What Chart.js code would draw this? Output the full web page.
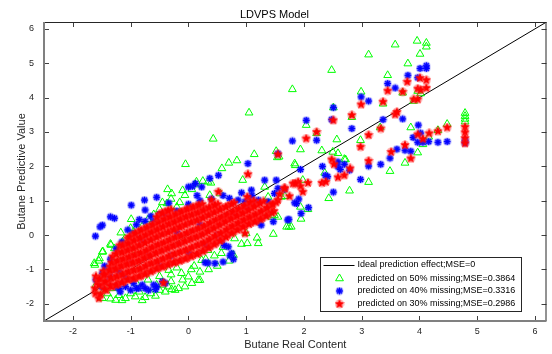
<!DOCTYPE html>
<html>
<head>
<meta charset="utf-8">
<script src="https://cdn.jsdelivr.net/npm/chart.js@4/dist/chart.umd.min.js"></script>
<style>
  body { margin: 0; background: #fff; }
  #wrap { width: 552px; height: 354px; }
</style>
</head>
<body>
<div id="wrap"><canvas id="chart"></canvas></div>
<script>
// axis ticks
const xTicks = [-2, -1, 0, 1, 2, 3, 4, 5, 6];
const yTicks = [-2, -1, 0, 1, 2, 3, 4, 5, 6];

// ideal prediction line (y = x) across the whole axis range
const idealLine = [[-2.5, -2.5], [6.2, 6.2]];

const legendLabels = [
    'Ideal prediction effect;MSE=0',
    'predicted on 50% missing;MSE=0.3864',
    'predicted on 40% missing;MSE=0.3316',
    'predicted on 30% missing;MSE=0.2986'
];

// 50% missing (green triangles)
const green50 = [
    [1.80,4.24],[2.48,4.80],[3.12,5.25],[3.58,5.54],[3.96,5.65],[4.12,5.59],[4.12,5.48],[4.01,5.27],[3.80,4.99],[3.45,4.65],
    [2.99,4.17],[3.71,4.14],[3.97,4.19],[4.02,4.12],[3.90,3.90],[3.37,3.82],[2.51,3.71],[2.83,3.43],[2.04,3.20],[2.22,2.96],
    [3.32,3.13],[3.85,3.13],[4.16,2.86],[4.32,3.05],[4.48,3.23],[2.57,2.78],[2.98,2.76],[1.94,2.49],[2.31,2.46],[2.50,2.42],
    [2.59,2.38],[3.97,2.40],[4.06,2.64],[3.75,2.10],[1.85,2.03],[1.57,2.28],[2.72,2.20],
    [4.79,3.30],[4.79,3.38],[4.79,3.46],[4.79,3.55],
    [3.49,1.86],[3.12,1.54],[2.79,1.29],[2.43,1.07],[2.36,1.81],[2.70,2.21],[1.98,1.60],[1.67,1.13],[1.94,0.82],[2.07,0.75],
    [1.95,0.47],[1.74,0.24],[1.55,0.53],
    [1.05,3.56],[0.43,2.80],[-0.05,2.06],[1.14,2.35],[0.84,2.17],[0.70,2.10],[0.58,1.94],[1.52,2.44],[1.54,2.26],[0.94,1.60],
    [-0.36,1.33],[0.39,1.52],[0.25,1.57],[0.12,1.47],[0.06,1.33],[-0.37,0.92],[-0.99,0.46],[-1.17,0.07],[-1.35,-0.26],[-1.49,-0.49],
    [-1.55,-0.75],[-1.62,-0.87],[1.47,0.03],[1.19,-0.08],[0.92,-0.26],[1.02,-0.24],[1.21,-0.24],[1.49,0.58],[1.38,0.65],[1.70,0.24],
    [0.75,-0.58],[0.34,-0.44],[0.23,-0.73],
    [1.84,2.08],[-0.29,1.21],[-0.06,1.16],[0.14,1.55],[0.34,1.55],[0.37,1.16],[0.55,1.21],[1.32,1.40],[1.38,1.11],[1.61,1.11],
    [1.44,0.53],[1.78,0.24],[-0.20,0.82],[-0.23,0.53],
    [0.57,-0.53],[0.78,-0.58],[0.20,-1.07],[0.17,-1.31],[0.06,-1.40],[-0.06,-1.50],[-0.17,-1.55],[-0.29,-1.58],[-0.12,-1.11],[0.00,-1.21],
    [-0.34,-1.02],
    [-1.49,-1.84],[-1.26,-1.89],[-1.09,-1.84],[-0.92,-1.79],[-0.75,-1.81],[-0.57,-1.77],[-0.40,-1.65],[-0.23,-1.60],[0.20,-1.31],
    [-1.63,-0.82],[-1.54,-0.68],[-1.48,-0.48],[-1.34,-0.29],[-1.28,-0.39],[-1.14,-0.20],[-1.00,-0.35],[-0.91,-0.44],
    [-1.40,-1.70],[-1.35,-1.85],[-1.20,-1.75],[-1.15,-1.90],[-1.00,-1.70],[-0.85,-1.65],[-0.80,-1.90],[-0.65,-1.70],[-0.50,-1.60],[-0.45,-1.45],
    [-0.30,-1.35],[-0.35,-1.50],[-0.55,-1.45],[-1.55,-1.60],[-1.60,-1.45],[-1.45,-1.50],[-1.30,-1.55],
    [-1.10,-0.10],[-0.95,0.10],[-0.80,0.25],[-0.70,0.45],[-0.60,0.60],[-0.50,0.75],[-0.45,0.95],[-0.30,1.05],[-0.15,0.95],[-0.10,1.30],
    [-0.65,0.30],[-0.85,-0.05],[-1.00,0.20],[-1.20,-0.45],[-1.25,-0.65],[-1.40,-1.05],[-1.50,-1.25],
    [-0.90,-1.40],[-0.70,-1.30],[-0.50,-1.20],[-0.30,-1.15],[-0.20,-0.95],[0.10,-0.90],[0.30,-0.70],[0.45,-0.60],[0.60,-0.35],[0.80,-0.10],
    [1.00,0.05],[0.50,-0.90],[0.70,-0.75],[0.35,-1.00],[0.05,-1.00],[-0.10,-1.30]
];

// 40% missing (blue asterisks)
const blue40 = [
    [4.12,4.93],[4.12,4.85],[4.01,4.85],[3.80,4.65],[3.97,4.58],[3.45,4.41],[3.58,4.28],[2.99,4.02],[3.12,3.90],[2.51,3.71],
    [2.04,3.34],[2.48,3.36],[2.83,3.10],[3.37,3.36],[3.71,3.38],[3.98,3.20],[4.02,2.97],[3.89,2.84],[3.97,2.70],[4.06,2.70],
    [4.16,2.72],[4.32,2.70],[4.48,2.72],[1.80,2.74],[2.22,2.76],[4.79,2.68],[4.79,2.76],[3.61,2.50],[3.75,2.47],[3.85,2.44],
    [3.49,2.24],[3.33,2.06],[3.12,2.01],[2.32,2.00],[2.59,2.13],[2.70,2.06],[2.59,1.99],[1.94,1.91],[1.55,2.37],
    [2.63,1.91],[2.79,1.89],[2.37,1.74],[2.41,1.70],[2.98,1.62],[2.51,1.25],[1.66,1.33],[1.84,0.94],[1.91,1.05],[2.08,0.80],
    [1.95,0.63],[1.74,0.46],
    [-1.61,-0.03],[-1.53,0.24],[-1.49,0.29],[-1.35,0.53],[-1.28,0.49],[-0.99,0.87],[-0.76,1.02],[-0.75,0.73],[-0.55,1.10],[1.03,2.08],
    [0.07,1.42],[0.52,1.74],[0.37,1.65],[1.32,1.60],[1.52,1.60],[0.71,1.07],[0.86,1.02],[0.92,1.23],[1.09,1.31],[1.21,1.02],
    [1.72,0.44],[0.46,-0.82],[0.60,-0.78],[0.34,-0.81],[0.69,-0.34],[0.75,-0.53],
    [-1.26,-1.50],[-1.09,-1.50],[-0.86,-1.55],[-0.69,-1.60],[-0.57,-1.58],[-1.49,-1.11],[-1.44,-1.07],[-1.18,-1.65],
    [0.00,1.40],[0.12,1.50],[0.23,1.40],[-0.34,0.93],[1.55,1.36],[1.49,1.21],[1.87,0.92],[1.21,0.39],[1.26,0.29],[1.47,0.39],
    [0.98,0.97],[1.15,0.92],[1.38,0.97],
    [0.57,-0.15],[0.62,-0.30],[0.72,-0.60],[0.78,-0.70],[0.29,-0.80],
    [-1.36,-1.20],[-1.30,-1.00],[-1.20,-1.05],[-1.10,-1.20],[-0.95,-1.40],[-0.80,-1.45],[-0.60,-1.45],[-0.45,-1.35],[-0.96,0.05],[-0.85,-0.10],
    [-0.79,-0.15],[-0.60,0.40],[-0.40,0.60],[-0.20,0.70],[0.00,0.90],[0.20,1.00],[0.40,1.05],[-0.30,-0.60],[0.00,-0.50],[0.30,-0.30],
    [0.50,0.00],[-0.50,-0.90],[-0.70,-0.60],[-1.00,-0.80],[-0.20,0.10],[0.20,0.30],[0.80,0.60],[1.00,0.80],[-1.60,-1.30],[-1.50,-1.50],
    [-1.00,-1.60],[-0.75,-1.55],[-1.40,-1.35],[-0.65,0.55],[-0.85,0.45],[0.15,1.15],[0.60,1.15],[1.10,1.15],
    [-1.45,-0.90],[-1.35,-0.70],[-1.25,-0.40],[-1.15,-0.20],[-1.05,0.15],[-0.90,0.30],[-0.75,0.40],[-0.50,0.60],[-0.90,-1.55],[-1.20,-1.55],
    [-0.55,-1.50],[-0.40,-1.40]
];

// 30% missing (red stars)
const red30 = [
    [4.01,4.57],[4.12,4.51],[4.12,4.28],[3.79,4.46],[3.45,4.20],[3.97,4.26],[4.02,4.22],[3.71,4.17],[3.90,3.95],[3.97,3.95],
    [3.37,3.88],[2.99,3.80],[2.83,3.49],[3.58,3.51],[3.61,3.58],[2.51,3.34],[2.22,3.00],[2.04,2.81],[3.33,3.10],[4.17,2.96],
    [4.32,3.02],[4.48,3.13],[4.06,2.80],[3.97,2.93],[4.79,3.15],[4.79,2.99],[4.79,2.82],[4.79,2.67],[3.12,2.91],[2.98,2.57],
    [3.75,2.62],[3.51,2.42],[3.85,2.23],[2.48,2.20],[3.12,2.16],[1.55,2.35],[2.80,1.94],
    [2.52,2.06],[2.70,1.74],[2.59,1.68],[2.31,1.52],[2.38,1.55],[1.81,1.50],[1.90,1.55],[1.94,1.42],[1.98,1.26],[2.07,1.52],
    [1.66,1.36],[1.58,1.19],[1.75,1.13],
    [1.03,1.77],[0.52,1.26],[0.40,1.02],[1.02,1.11],[1.67,1.36],[-1.61,-1.70],[-1.55,-1.84],[-0.43,-1.39],[0.98,0.05],[1.43,0.87],
    [1.55,1.02],[1.85,1.50],
    // dense core
    [-1.62,-1.55],[-1.58,-1.35],[-1.60,-1.20],
    [-1.52,-1.72],[-1.48,-1.45],[-1.50,-1.25],[-1.47,-1.05],
    [-1.42,-1.60],[-1.38,-1.35],[-1.40,-1.12],[-1.36,-0.92],
    [-1.32,-1.50],[-1.28,-1.25],[-1.30,-1.02],[-1.27,-0.82],[-1.31,-0.62],
    [-1.22,-1.42],[-1.18,-1.18],[-1.20,-0.95],[-1.17,-0.72],[-1.21,-0.50],[-1.19,-0.30],
    [-1.12,-1.35],[-1.08,-1.10],[-1.10,-0.88],[-1.07,-0.68],[-1.11,-0.48],[-1.09,-0.28],[-1.05,-0.10],
    [-1.02,-1.28],[-0.98,-1.05],[-1.00,-0.83],[-0.97,-0.60],[-1.01,-0.40],[-0.99,-0.20],[-0.96,0.00],
    [-0.92,-1.25],[-0.88,-1.00],[-0.90,-0.78],[-0.87,-0.55],[-0.91,-0.35],[-0.89,-0.12],[-0.86,0.10],
    [-0.82,-1.18],[-0.78,-0.95],[-0.80,-0.72],[-0.77,-0.50],[-0.81,-0.28],[-0.79,-0.06],[-0.76,0.18],
    [-0.72,-1.10],[-0.68,-0.85],[-0.70,-0.62],[-0.67,-0.40],[-0.71,-0.18],[-0.69,0.04],[-0.66,0.26],
    [-0.62,-1.02],[-0.58,-0.80],[-0.60,-0.56],[-0.57,-0.32],[-0.61,-0.10],[-0.59,0.12],[-0.56,0.34],
    [-0.52,-0.95],[-0.48,-0.72],[-0.50,-0.48],[-0.47,-0.25],[-0.51,-0.02],[-0.49,0.20],[-0.46,0.42],[-0.50,0.60],
    [-0.42,-0.90],[-0.38,-0.66],[-0.40,-0.42],[-0.37,-0.18],[-0.41,0.05],[-0.39,0.28],[-0.36,0.50],[-0.40,0.68],
    [-0.32,-0.82],[-0.28,-0.58],[-0.30,-0.34],[-0.27,-0.10],[-0.31,0.12],[-0.29,0.35],[-0.26,0.56],[-0.30,0.74],
    [-0.22,-0.78],[-0.18,-0.52],[-0.20,-0.28],[-0.17,-0.04],[-0.21,0.20],[-0.19,0.42],[-0.16,0.64],
    [-0.12,-0.72],[-0.08,-0.46],[-0.10,-0.22],[-0.07,0.02],[-0.11,0.26],[-0.09,0.50],[-0.06,0.72],
    [-0.02,-0.66],[0.02,-0.40],[0.00,-0.15],[0.03,0.10],[-0.01,0.34],[0.01,0.56],[0.04,0.78],
    [0.08,-0.58],[0.12,-0.32],[0.10,-0.08],[0.13,0.16],[0.09,0.40],[0.11,0.62],[0.14,0.84],
    [0.18,-0.52],[0.22,-0.26],[0.20,-0.02],[0.23,0.22],[0.19,0.46],[0.21,0.68],[0.24,0.90],
    [0.28,-0.42],[0.32,-0.18],[0.30,0.06],[0.33,0.30],[0.29,0.54],[0.31,0.76],
    [0.38,-0.32],[0.42,-0.08],[0.40,0.16],[0.43,0.40],[0.39,0.62],[0.41,0.84],
    [0.48,-0.22],[0.52,0.02],[0.50,0.25],[0.53,0.48],[0.49,0.70],[0.51,0.90],
    [0.58,-0.12],[0.62,0.10],[0.60,0.34],[0.63,0.56],[0.59,0.78],
    [0.68,0.00],[0.72,0.22],[0.70,0.44],[0.73,0.64],[0.69,0.86],
    [0.78,0.10],[0.82,0.30],[0.80,0.52],[0.83,0.72],[0.79,0.94],
    [0.88,0.20],[0.92,0.40],[0.90,0.60],[0.93,0.80],
    [0.98,0.28],[1.02,0.48],[1.00,0.68],[1.03,0.90],
    [1.08,0.36],[1.12,0.56],[1.10,0.78],[1.13,1.00],
    [1.18,0.42],[1.22,0.64],[1.20,0.88],
    [1.28,0.50],[1.32,0.74],[1.30,0.98],
    [1.38,0.60],[1.42,0.84],
    [1.48,0.70],[1.52,0.95],
    // in-between points of the core
    [-1.55,-1.45],[-1.54,-1.28],
    [-1.45,-1.58],[-1.44,-1.35],[-1.46,-1.15],
    [-1.35,-1.48],[-1.34,-1.24],[-1.36,-1.02],[-1.33,-0.80],
    [-1.25,-1.45],[-1.24,-1.20],[-1.26,-0.98],[-1.23,-0.75],[-1.25,-0.55],
    [-1.15,-1.38],[-1.14,-1.14],[-1.16,-0.90],[-1.13,-0.70],[-1.15,-0.50],[-1.14,-0.30],
    [-1.05,-1.30],[-1.04,-1.07],[-1.06,-0.85],[-1.03,-0.64],[-1.05,-0.44],[-1.04,-0.24],[-1.02,-0.05],
    [-0.95,-1.26],[-0.94,-1.02],[-0.96,-0.80],[-0.93,-0.58],[-0.95,-0.38],[-0.94,-0.16],[-0.92,0.05],
    [-0.85,-1.20],[-0.84,-0.98],[-0.86,-0.75],[-0.83,-0.52],[-0.85,-0.30],[-0.84,-0.08],[-0.82,0.14],
    [-0.75,-1.14],[-0.74,-0.90],[-0.76,-0.67],[-0.73,-0.45],[-0.75,-0.23],[-0.74,0.00],[-0.72,0.22],
    [-0.65,-1.06],[-0.64,-0.82],[-0.66,-0.60],[-0.63,-0.36],[-0.65,-0.14],[-0.64,0.08],[-0.62,0.30],
    [-0.55,-0.98],[-0.54,-0.76],[-0.56,-0.52],[-0.53,-0.28],[-0.55,-0.06],[-0.54,0.16],[-0.52,0.38],[-0.55,0.52],
    [-0.45,-0.92],[-0.44,-0.69],[-0.46,-0.45],[-0.43,-0.22],[-0.45,0.02],[-0.44,0.24],[-0.42,0.46],[-0.45,0.64],
    [-0.35,-0.86],[-0.34,-0.62],[-0.36,-0.38],[-0.33,-0.14],[-0.35,0.08],[-0.34,0.32],[-0.32,0.53],[-0.35,0.71],
    [-0.25,-0.80],[-0.24,-0.55],[-0.26,-0.31],[-0.23,-0.07],[-0.25,0.16],[-0.24,0.38],[-0.22,0.60],
    [-0.15,-0.75],[-0.14,-0.49],[-0.16,-0.25],[-0.13,-0.02],[-0.15,0.23],[-0.14,0.46],[-0.12,0.68],
    [-0.05,-0.69],[-0.04,-0.43],[-0.06,-0.18],[-0.03,0.06],[-0.05,0.30],[-0.04,0.53],[-0.02,0.75],
    [0.05,-0.62],[0.06,-0.36],[0.04,-0.11],[0.07,0.13],[0.05,0.37],[0.06,0.59],[0.08,0.81],
    [0.15,-0.55],[0.16,-0.29],[0.14,-0.05],[0.17,0.19],[0.15,0.43],[0.16,0.65],[0.18,0.87],
    [0.25,-0.47],[0.26,-0.22],[0.24,0.02],[0.27,0.26],[0.25,0.50],[0.26,0.72],
    [0.35,-0.37],[0.36,-0.13],[0.34,0.11],[0.37,0.35],[0.35,0.58],[0.36,0.80],
    [0.45,-0.27],[0.46,-0.03],[0.44,0.20],[0.47,0.44],[0.45,0.66],[0.46,0.87],
    [0.55,-0.17],[0.56,0.06],[0.54,0.30],[0.57,0.52],[0.55,0.74],
    [0.65,-0.06],[0.66,0.16],[0.64,0.39],[0.67,0.60],[0.65,0.82],
    [0.75,0.05],[0.76,0.26],[0.74,0.48],[0.77,0.68],[0.75,0.90],
    [0.85,0.15],[0.86,0.35],[0.84,0.56],[0.87,0.76],
    [0.95,0.24],[0.96,0.44],[0.94,0.64],[0.97,0.85],
    [1.05,0.32],[1.06,0.52],[1.04,0.73],[1.07,0.95],
    [1.15,0.39],[1.16,0.60],[1.14,0.83],
    [1.25,0.46],[1.26,0.69],[1.24,0.93],
    [1.35,0.55],[1.36,0.79],
    [1.45,0.65],[1.46,0.90]
];

// small marker images (pentagram and asterisk like the MATLAB ones)
function makeStar(color, halo, size) {
    const c = document.createElement('canvas');
    c.width = size;
    c.height = size;
    const g = c.getContext('2d');
    const R = size / 2, r = R * 0.45;
    // soft halo like the blurred original
    g.fillStyle = halo;
    g.beginPath();
    g.arc(R, R, R - 0.5, 0, Math.PI * 2);
    g.fill();
    g.beginPath();
    for (let i = 0; i < 10; i++) {
        const a = -Math.PI / 2 + i * Math.PI / 5;
        const rr = i % 2 === 0 ? R : r;
        g.lineTo(R + rr * Math.cos(a), R + rr * Math.sin(a));
    }
    g.closePath();
    g.fillStyle = color;
    g.fill();
    return c;
}

function makeAsterisk(color, halo, size) {
    const c = document.createElement('canvas');
    c.width = size;
    c.height = size;
    const g = c.getContext('2d');
    const m = size / 2;
    g.fillStyle = halo;
    g.beginPath();
    g.arc(m, m, m - 0.5, 0, Math.PI * 2);
    g.fill();
    g.strokeStyle = color;
    g.lineWidth = 1.4;
    const d = m - 1, e = d * 0.707;
    g.beginPath();
    g.moveTo(m - d, m); g.lineTo(m + d, m);
    g.moveTo(m, m - d); g.lineTo(m, m + d);
    g.moveTo(m - e, m - e); g.lineTo(m + e, m + e);
    g.moveTo(m - e, m + e); g.lineTo(m + e, m - e);
    g.stroke();
    return c;
}

const redStar = makeStar('#ff0000', 'rgba(255,40,40,0.4)', 10);
const blueAst = makeAsterisk('#0000ff', 'rgba(60,60,255,0.35)', 9);

const toXY = arr => arr.map(p => ({ x: p[0], y: p[1] }));

function drawTriangle(ctx, x, y, r) {
    ctx.beginPath();
    ctx.moveTo(x, y - r);
    ctx.lineTo(x + r * 0.866, y + r * 0.5);
    ctx.lineTo(x - r * 0.866, y + r * 0.5);
    ctx.closePath();
    ctx.stroke();
}

// MATLAB style box with inward ticks
const boxAxes = {
    id: 'boxAxes',
    afterDraw(chart) {
        const { ctx, chartArea: a, scales } = chart;
        ctx.save();
        ctx.strokeStyle = '#404040';
        ctx.lineWidth = 1;
        const t = 5;
        ctx.beginPath();
        xTicks.forEach(v => {
            const px = Math.round(scales.x.getPixelForValue(v)) + 0.5;
            ctx.moveTo(px, a.bottom); ctx.lineTo(px, a.bottom - t);
            ctx.moveTo(px, a.top); ctx.lineTo(px, a.top + t);
        });
        yTicks.forEach(v => {
            const py = Math.round(scales.y.getPixelForValue(v)) + 0.5;
            ctx.moveTo(a.left, py); ctx.lineTo(a.left + t, py);
            ctx.moveTo(a.right, py); ctx.lineTo(a.right - t, py);
        });
        ctx.stroke();
        // top and right edges
        ctx.strokeStyle = '#262626';
        ctx.beginPath();
        ctx.moveTo(a.left, a.top + 0.5); ctx.lineTo(a.right, a.top + 0.5);
        ctx.moveTo(a.right - 0.5, a.top); ctx.lineTo(a.right - 0.5, a.bottom);
        ctx.stroke();
        // left and bottom edges
        ctx.strokeStyle = '#808080';
        ctx.lineWidth = 2;
        ctx.beginPath();
        ctx.moveTo(a.left, a.top); ctx.lineTo(a.left, a.bottom);
        ctx.lineTo(a.right, a.bottom);
        ctx.stroke();
        ctx.restore();
    }
};

// legend box in the lower right corner of the plot
const boxLegend = {
    id: 'boxLegend',
    afterDraw(chart) {
        const { ctx, chartArea: a } = chart;
        const w = 201, h = 54;
        const x0 = a.right - 26 - w, y0 = a.bottom - 10 - h;
        ctx.save();
        ctx.fillStyle = '#fff';
        ctx.fillRect(x0, y0, w, h);
        ctx.strokeStyle = '#262626';
        ctx.lineWidth = 1;
        ctx.strokeRect(Math.round(x0) + 0.5, Math.round(y0) + 0.5, w, h);
        const rowY = [8, 21.5, 34, 47];
        const mx = x0 + 20, tx = x0 + 38;
        // line sample
        ctx.strokeStyle = '#000';
        ctx.beginPath();
        ctx.moveTo(x0 + 4, y0 + rowY[0] + 0.5);
        ctx.lineTo(x0 + 35, y0 + rowY[0] + 0.5);
        ctx.stroke();
        // markers
        ctx.strokeStyle = '#00ff00';
        drawTriangle(ctx, mx, y0 + rowY[1], 4.5);
        ctx.drawImage(blueAst, mx - 4.5, y0 + rowY[2] - 4.5);
        ctx.drawImage(redStar, mx - 5, y0 + rowY[3] - 5);
        // texts
        ctx.fillStyle = '#000';
        ctx.font = '9px "Liberation Sans", Arial, sans-serif';
        ctx.textBaseline = 'middle';
        legendLabels.forEach((s, i) => ctx.fillText(s, tx, y0 + rowY[i]));
        ctx.restore();
    }
};

const tickFont = { family: '"Liberation Sans", Arial, sans-serif', size: 9 };
const labelFont = { family: '"Liberation Sans", Arial, sans-serif', size: 11, weight: 'normal' };

new Chart(document.getElementById('chart'), {
    data: {
        datasets: [
            {
                type: 'line',
                label: legendLabels[0],
                data: toXY(idealLine),
                borderColor: '#000',
                borderWidth: 1,
                pointRadius: 0,
                order: 4
            },
            {
                type: 'scatter',
                label: legendLabels[1],
                data: toXY(green50),
                pointStyle: 'triangle',
                pointRadius: 4.5,
                borderColor: '#00ff00',
                backgroundColor: 'rgba(0,0,0,0)',
                borderWidth: 1,
                order: 3
            },
            {
                type: 'scatter',
                label: legendLabels[2],
                data: toXY(blue40),
                pointStyle: blueAst,
                pointRadius: 4,
                order: 2
            },
            {
                type: 'scatter',
                label: legendLabels[3],
                data: toXY(red30),
                pointStyle: redStar,
                pointRadius: 4,
                order: 1
            }
        ]
    },
    options: {
        responsive: true,
        maintainAspectRatio: false,
        animation: false,
        layout: { padding: { left: 0, right: 3, top: 0, bottom: 0 } },
        plugins: {
            legend: { display: false },
            tooltip: { enabled: false },
            title: {
                display: true,
                text: 'LDVPS Model',
                color: '#000',
                font: labelFont,
                padding: { top: 8, bottom: 0.8 }
            }
        },
        scales: {
            x: {
                type: 'linear',
                min: -2.5,
                max: 6.2,
                grid: { display: false, drawTicks: false },
                border: { display: false },
                afterBuildTicks: s => { s.ticks = xTicks.map(v => ({ value: v })); },
                afterFit: s => { s.height = 33; },
                ticks: { font: tickFont, color: '#262626', padding: 5, maxRotation: 0 },
                title: {
                    display: true,
                    text: 'Butane Real Content',
                    color: '#262626',
                    font: labelFont,
                    padding: { top: 0, bottom: 2 }
                }
            },
            y: {
                type: 'linear',
                min: -2.5,
                max: 6.2,
                grid: { display: false, drawTicks: false },
                border: { display: false },
                afterBuildTicks: s => { s.ticks = yTicks.map(v => ({ value: v })); },
                afterFit: s => { s.width = 44; },
                ticks: { font: tickFont, color: '#262626', padding: 10 },
                title: {
                    display: true,
                    text: 'Butane Predictive Value',
                    color: '#262626',
                    font: labelFont,
                    padding: { top: 15, bottom: 0 }
                }
            }
        }
    },
    plugins: [boxAxes, boxLegend]
});
</script>
</body>
</html>
